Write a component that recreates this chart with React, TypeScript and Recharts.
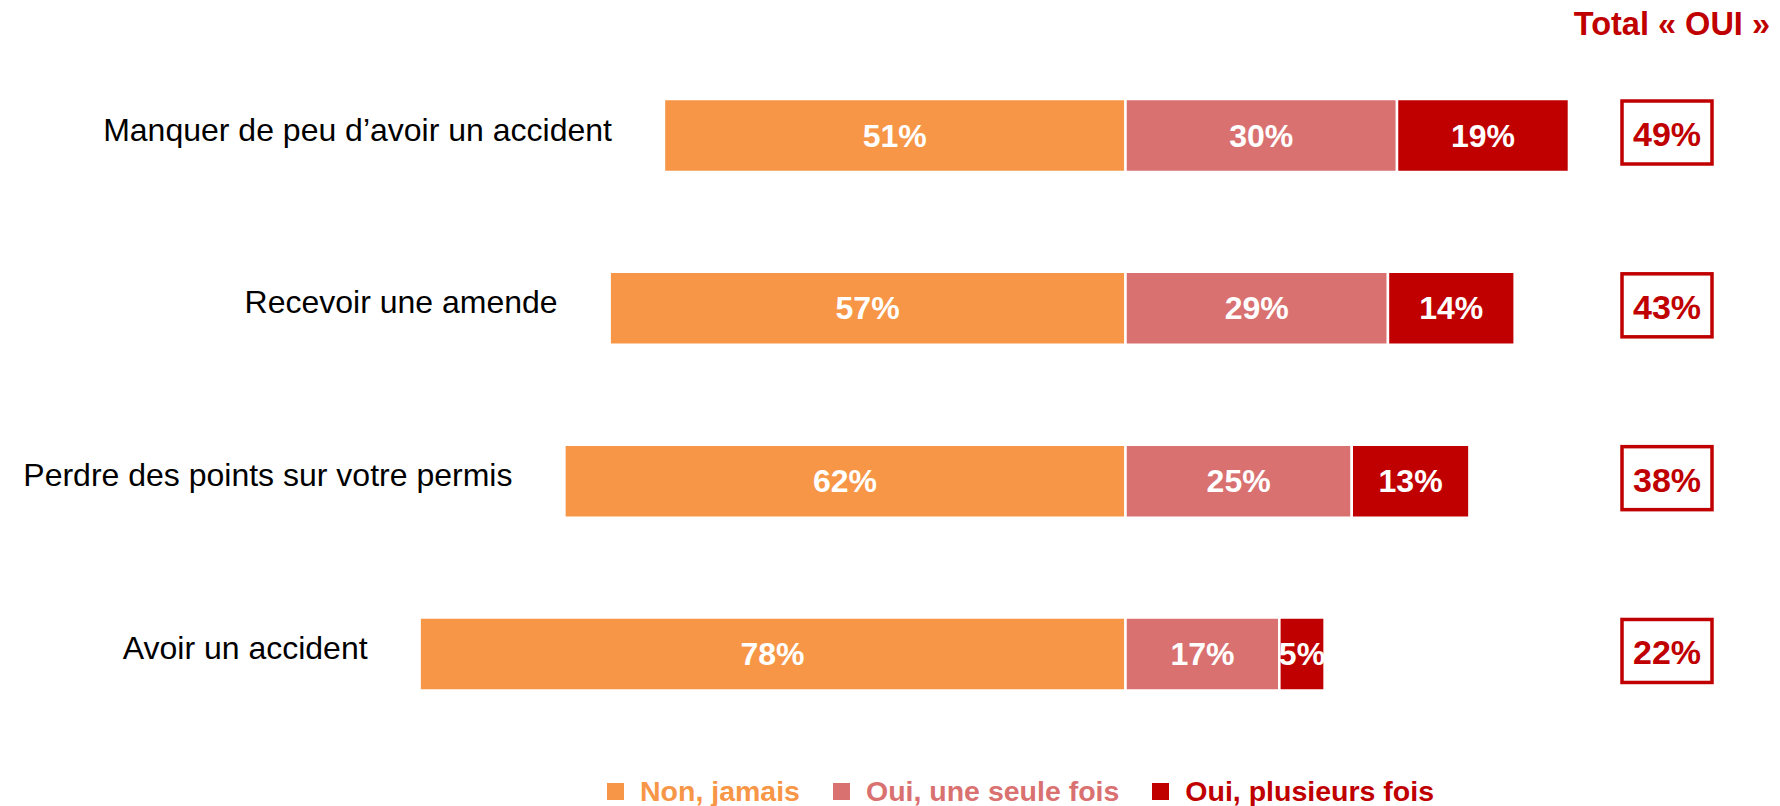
import React from 'react';
import { BarChart, Bar, XAxis, YAxis, LabelList, Legend } from 'recharts';

const categories = [
  'Manquer de peu d’avoir un accident',
  'Recevoir une amende',
  'Perdre des points sur votre permis',
  'Avoir un accident',
];
const nonJamais = [51, 57, 62, 78];
const ouiUneFois = [30, 29, 25, 17];
const ouiPlusieurs = [19, 14, 13, 5];
const totalOui = [49, 43, 38, 22];
const seriesNames = ['Non, jamais', 'Oui, une seule fois', 'Oui, plusieurs fois'];
const seriesColors = ['#F79646', '#D97171', '#C00000'];
const headerText = 'Total « OUI »';

const data = categories.map((name, i) => ({
  name,
  non: -nonJamais[i],
  nonLabel: nonJamais[i],
  une: ouiUneFois[i],
  plus: ouiPlusieurs[i],
  total: totalOui[i],
}));

const FONT = '"Liberation Sans", Arial, Helvetica, sans-serif';

const box = (p: any) => {
  const vb = p.viewBox && p.viewBox.width !== undefined ? p.viewBox : p;
  const x = Number(vb.x), y = Number(vb.y), w = Number(vb.width), h = Number(vb.height);
  return { left: Math.min(x, x + w), right: Math.max(x, x + w), top: y, cy: y + h / 2, cx: x + w / 2 };
};

const BarValue = (p: any) => {
  const b = box(p);
  return (
    <text x={b.cx} y={b.cy + 11} textAnchor="middle" fill="#FFFFFF" fontSize={32} fontWeight="bold" fontFamily={FONT}>
      {p.value}%
    </text>
  );
};

const CategoryLabel = (p: any) => {
  const b = box(p);
  return (
    <text x={b.left - 52} y={b.cy + 5} textAnchor="end" fill="#000000" fontSize={32} fontFamily={FONT}>
      {p.value}
    </text>
  );
};

const TotalBox = (p: any) => {
  const b = box(p);
  const bx = 1614;
  const by = b.cy - 3 - 31.5;
  return (
    <g>
      <rect x={bx} y={by} width={90} height={63} fill="#FFFFFF" stroke="#C00000" strokeWidth={3.5} />
      <text x={bx + 45} y={b.cy + 10.5} textAnchor="middle" fill="#C00000" fontSize={34} fontWeight="bold" fontFamily={FONT}>
        {p.value}%
      </text>
    </g>
  );
};

const LegendContent = () => (
  <div style={{ display: 'flex', alignItems: 'center', height: 30, fontFamily: FONT }}>
    {seriesNames.map((n, i) => (
      <div key={n} style={{ display: 'flex', alignItems: 'center', marginRight: 33 }}>
        <div style={{ width: 17, height: 17, background: seriesColors[i], marginRight: 16 }} />
        <span style={{ color: seriesColors[i], fontSize: 28.5, fontWeight: 'bold', lineHeight: '30px', whiteSpace: 'nowrap' }}>{n}</span>
      </div>
    ))}
  </div>
);

export default function App() {
  return (
    <div style={{ width: 1772, height: 798, position: 'relative' }}>
      <BarChart
        width={1772}
        height={798}
        data={data}
        layout="vertical"
        stackOffset="sign"
        margin={{ top: 41, right: 21, left: 212.5, bottom: 65.7 }}
      >
        <XAxis type="number" domain={[-100, 70]} hide allowDataOverflow />
        <YAxis type="category" dataKey="name" hide />
        <Legend
          verticalAlign="middle"
          layout="horizontal"
          content={<LegendContent />}
          wrapperStyle={{ top: 768, left: 599, width: 1000, height: 30 }}
        />
        <Bar dataKey="non" name={seriesNames[0]} stackId="a" fill={seriesColors[0]} stroke="#FFFFFF" strokeWidth={2.5} barSize={73} isAnimationActive={false}>
          <LabelList dataKey="nonLabel" content={BarValue} />
          <LabelList dataKey="name" content={CategoryLabel} />
        </Bar>
        <Bar dataKey="une" name={seriesNames[1]} stackId="a" fill={seriesColors[1]} stroke="#FFFFFF" strokeWidth={2.5} barSize={73} isAnimationActive={false}>
          <LabelList dataKey="une" content={BarValue} />
        </Bar>
        <Bar dataKey="plus" name={seriesNames[2]} stackId="a" fill={seriesColors[2]} stroke="#FFFFFF" strokeWidth={2.5} barSize={73} isAnimationActive={false}>
          <LabelList dataKey="plus" content={BarValue} />
          <LabelList dataKey="total" content={TotalBox} />
        </Bar>
      </BarChart>
      <div
        style={{
          position: 'absolute',
          top: 0,
          right: 10,
          fontFamily: FONT,
          fontSize: 32.5,
          fontWeight: 'bold',
          lineHeight: '32.5px',
          color: '#C00000',
          whiteSpace: 'nowrap',
        }}
      >
        {headerText}
      </div>
    </div>
  );
}
